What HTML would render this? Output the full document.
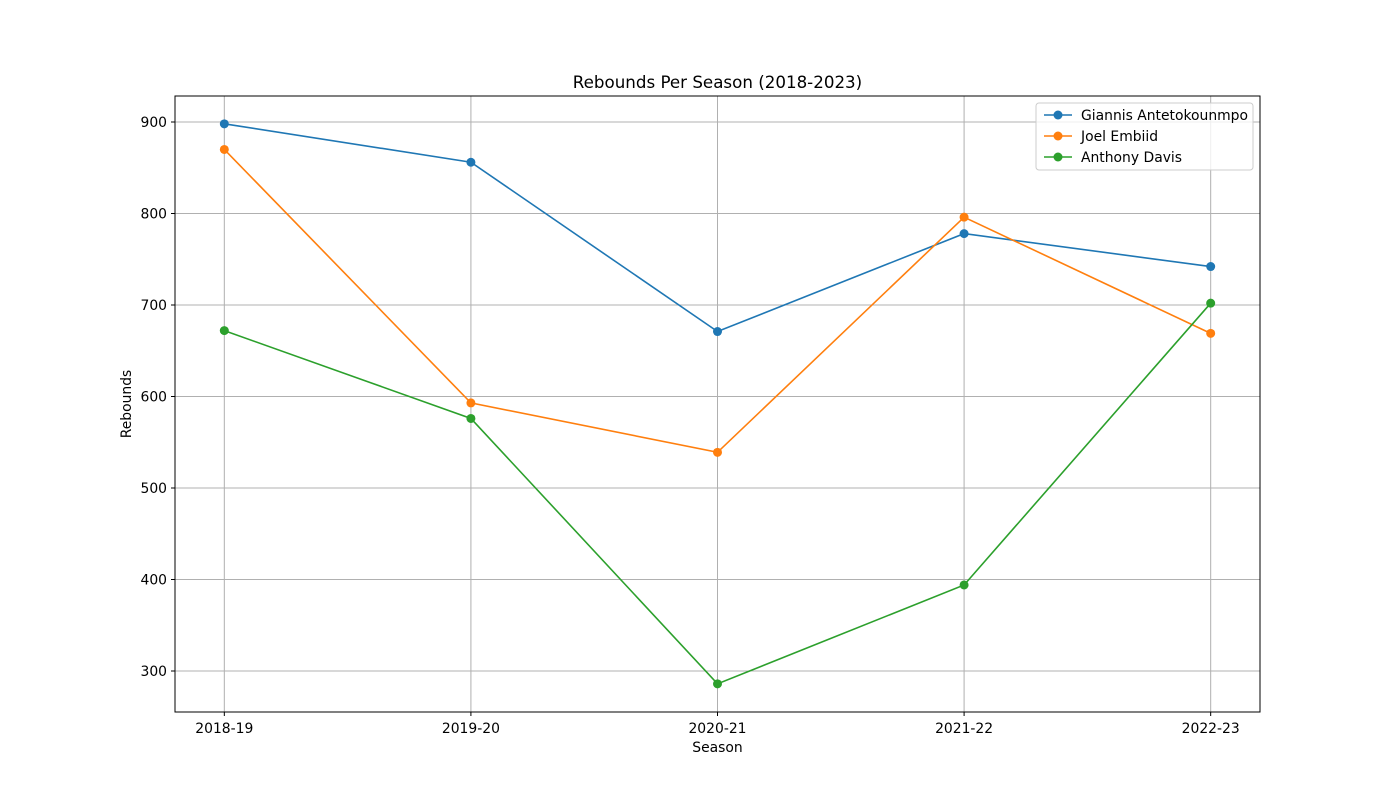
<!DOCTYPE html>
<html><head><meta charset="utf-8"><style>
body{margin:0;background:#fff;}
svg{display:block;font-family:"DejaVu Sans","Liberation Sans",sans-serif;}
</style></head><body>
<svg id="chart" width="1400" height="800">
<rect width="1400" height="800" fill="#fff"/>
<text x="717.5" y="88" font-size="16.7" text-anchor="middle">Rebounds Per Season (2018-2023)</text>
<g id="grid"></g>
<g id="ticks"></g>
<g id="series"></g>
<rect x="175" y="96" width="1085" height="616" fill="none" stroke="#000" stroke-width="1"/>
<text x="717.5" y="752" font-size="13.9" text-anchor="middle">Season</text>
<text x="131" y="404" font-size="13.9" text-anchor="middle" transform="rotate(-90 131 404)">Rebounds</text>
<g id="legend"></g>
</svg>
<script>
const seasons=["2018-19","2019-20","2020-21","2021-22","2022-23"];
const giannis=[898,856,671,778,742];
const embiid=[870,593,539,796,669];
const davis=[672,576,286,394,702];
const yTicks=[300,400,500,600,700,800,900];
const names=["Giannis Antetokounmpo","Joel Embiid","Anthony Davis"];
const colors=["#1f77b4","#ff7f0e","#2ca02c"];
const NS="http://www.w3.org/2000/svg";
const L=175,R=1260,T=96,B=712,ymin=255.2,ymax=928.4,xmin=-0.2,xmax=4.2;
const xs=i=>L+(i-xmin)/(xmax-xmin)*(R-L);
const ys=v=>B-(v-ymin)/(ymax-ymin)*(B-T);
function mk(tag,attrs,parent){const e=document.createElementNS(NS,tag);for(const k in attrs)e.setAttribute(k,attrs[k]);parent.appendChild(e);return e;}
const grid=document.getElementById('grid'),ticks=document.getElementById('ticks'),ser=document.getElementById('series'),leg=document.getElementById('legend');
seasons.forEach((s,i)=>{
 const x=xs(i);
 const g=mk('line',{x1:x,x2:x,y1:T,y2:B,stroke:'#b0b0b0','stroke-width':1},grid);
 
 
 mk('line',{x1:x,x2:x,y1:B,y2:B+4,stroke:'#000'},ticks);
 const t=mk('text',{x:x,y:B+21,'font-size':13.9,'text-anchor':'middle'},ticks);t.textContent=s;
 
 
});
yTicks.forEach(v=>{
 const y=ys(v);
 const g=mk('line',{x1:L,x2:R,y1:y,y2:y,stroke:'#b0b0b0','stroke-width':1},grid);
 
 
 mk('line',{x1:L-4,x2:L,y1:y,y2:y,stroke:'#000'},ticks);
 const t=mk('text',{x:L-8,y:y+5,'font-size':13.9,'text-anchor':'end'},ticks);t.textContent=v;
 
 
});
[giannis,embiid,davis].forEach((d,k)=>{
 const p=mk('polyline',{points:d.map((v,i)=>xs(i)+','+ys(v)).join(' '),fill:'none',stroke:colors[k],'stroke-width':1.6},ser);
 
 
 d.forEach((v,i)=>{const c=mk('circle',{cx:xs(i),cy:ys(v),r:4.5,fill:colors[k]},ser);
 
 });
});
const lb=mk('rect',{x:1036,y:103,width:217,height:67,rx:3,fill:'#fff','fill-opacity':0.8,stroke:'#ccc'},leg);


names.forEach((n,k)=>{
 const y=115+k*21;
 mk('line',{x1:1044,x2:1072,y1:y,y2:y,stroke:colors[k],'stroke-width':1.6},leg);
 mk('circle',{cx:1058,cy:y,r:4.5,fill:colors[k]},leg);
 const t=mk('text',{x:1081,y:y+5,'font-size':13.9},leg);t.textContent=n;
 
 
});
</script>
</body></html>
